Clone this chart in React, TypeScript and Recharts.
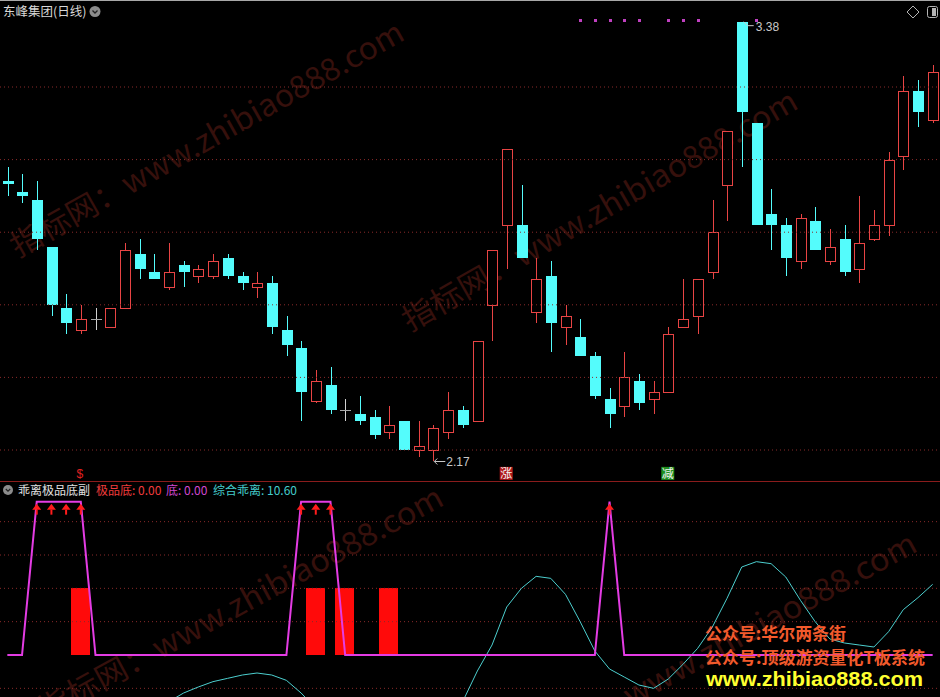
import React from 'react';
import { ComposedChart, Bar, Line, XAxis, YAxis, ReferenceLine, ReferenceDot } from 'recharts';

// 东峰集团 日线 + 乖离极品底副图

const W = 940;
const H = 697;
const TOP_H = 481;
const BOT_TOP = 482;
const BOT_H = 215;

// K线数据 (开/高/低/收)
const opens = [
  2.941, 2.91, 2.89, 2.76, 2.59, 2.53, 2.56, 2.54, 2.59, 2.74,
  2.69, 2.65, 2.71, 2.68, 2.68, 2.73, 2.68, 2.65, 2.66, 2.53,
  2.48, 2.335, 2.38, 2.31, 2.30, 2.29, 2.25, 2.28, 2.20, 2.20,
  2.25, 2.31, 2.28, 2.60, 2.82, 2.82, 2.58, 2.68, 2.54, 2.51,
  2.46, 2.34, 2.32, 2.39, 2.34, 2.36, 2.54, 2.57, 2.69, 2.93,
  3.38, 3.10, 2.85, 2.82, 2.72, 2.83, 2.72, 2.78, 2.70, 2.78,
  2.82, 3.01, 3.19, 3.11,
];
const highs = [
  2.98, 2.96, 2.94, 2.76, 2.63, 2.60, 2.59, 2.59, 2.77, 2.78,
  2.74, 2.77, 2.72, 2.71, 2.74, 2.74, 2.69, 2.69, 2.68, 2.57,
  2.50, 2.42, 2.43, 2.34, 2.35, 2.31, 2.32, 2.28, 2.28, 2.27,
  2.36, 2.32, 2.50, 2.75, 3.03, 2.93, 2.73, 2.72, 2.60, 2.56,
  2.47, 2.37, 2.47, 2.41, 2.39, 2.54, 2.67, 2.67, 2.89, 3.08,
  3.38, 3.10, 2.92, 2.84, 2.85, 2.87, 2.81, 2.82, 2.90, 2.86,
  3.02, 3.23, 3.22, 3.26,
];
const lows = [
  2.90, 2.88, 2.75, 2.57, 2.52, 2.52, 2.53, 2.54, 2.59, 2.67,
  2.67, 2.64, 2.65, 2.66, 2.67, 2.67, 2.64, 2.62, 2.52, 2.46,
  2.28, 2.33, 2.30, 2.28, 2.27, 2.23, 2.23, 2.20, 2.18, 2.17,
  2.23, 2.26, 2.28, 2.50, 2.70, 2.73, 2.55, 2.47, 2.49, 2.46,
  2.34, 2.26, 2.29, 2.31, 2.30, 2.36, 2.54, 2.52, 2.67, 2.83,
  2.98, 2.82, 2.75, 2.68, 2.70, 2.75, 2.71, 2.68, 2.66, 2.775,
  2.79, 2.97, 3.09, 3.10,
];
const closes = [
  2.933, 2.90, 2.78, 2.60, 2.55, 2.56, 2.56, 2.59, 2.75, 2.70,
  2.67, 2.69, 2.69, 2.70, 2.72, 2.68, 2.66, 2.66, 2.54, 2.49,
  2.36, 2.39, 2.31, 2.31, 2.28, 2.24, 2.27, 2.20, 2.21, 2.26,
  2.31, 2.27, 2.50, 2.75, 3.03, 2.73, 2.67, 2.55, 2.57, 2.46,
  2.35, 2.30, 2.40, 2.33, 2.36, 2.52, 2.56, 2.67, 2.80, 3.08,
  3.13, 2.82, 2.82, 2.73, 2.84, 2.75, 2.76, 2.69, 2.77, 2.82,
  3.00, 3.19, 3.13, 3.24,
];

const priceGrid = [3.2, 3.0, 2.8, 2.6, 2.4, 2.2];
const topMarkDays = [40, 41, 42, 43, 44, 46, 47, 48, 52];
const signalDays = [6, 35, 46];
const signalTexts = ['$', '涨', '减'];

// 副图
const diValues = [
  0, 0, 23, 23, 23, 23, 0, 0, 0, 0,
  0, 0, 0, 0, 0, 0, 0, 0, 0, 0,
  23, 23, 23, 0, 0, 0, 0, 0, 0, 0,
  0, 0, 0, 0, 0, 0, 0, 0, 0, 0,
  0, 23, 0, 0, 0, 0, 0, 0, 0, 0,
  0, 0, 0, 0, 0, 0, 0, 0, 0, 0,
  0, 0, 0, 0,
];
const jipinValues = [
  0, 0, 0, 0, 0, 10, 0, 0, 0, 0,
  0, 0, 0, 0, 0, 0, 0, 0, 0, 0,
  0, 10, 0, 10, 0, 0, 10, 0, 0, 0,
  0, 0, 0, 0, 0, 0, 0, 0, 0, 0,
  0, 0, 0, 0, 0, 0, 0, 0, 0, 0,
  0, 0, 0, 0, 0, 0, 0, 0, 0, 0,
  0, 0, 0, 0,
];
const biasValues = [
  -20, -22, -24, -25, -24, -22, -19, -16, -13, -11,
  -9, -7, -5.7, -4.8, -4.0, -3.5, -3.0, -2.7, -3.0, -3.8,
  -5.7, -8, -10, -12, -13, -14, -14, -13, -12, -10.5,
  -9, -7, -2.4, 1.5, 7.2, 10, 11.8, 11.5, 9.1, 5.0,
  0.6, -2.1, -3.3, -4.5, -5.0, -3.6, -1.4, 1.0, 4.2, 8.5,
  13.2, 14.0, 13.7, 11.7, 8.2, 5.0, 2.4, 1.8, 1.5, 1.2,
  3.5, 6.8, 8.6, 10.6,
];
const biasGrid = [20, 15, 10, 5, -5];

const PRICE_DOMAIN = [2.1146, 3.4397];
const BIAS_DOMAIN = [-6.3, 25.95];
const MARK_LEVEL = 3.385;
const SIGNAL_LEVEL = 2.137;

const UP = '#e84444';
const DOWN = '#54fcfc';
const FLAT = '#d0d0d0';
const GRID = '#8a2a2a';

const days = opens.map((_, i) => i + 1);

const priceTable = days.map((day, i) => ({
  day,
  open: opens[i],
  high: highs[i],
  low: lows[i],
  close: closes[i],
  range: [lows[i], highs[i]],
  mark: topMarkDays.includes(day) ? MARK_LEVEL : null,
  sig: signalDays.includes(day) ? SIGNAL_LEVEL : null,
  sigText: signalDays.includes(day) ? signalTexts[signalDays.indexOf(day)] : '',
}));

const biasTable = days.map((day, i) => ({
  day,
  di: diValues[i],
  jipin: jipinValues[i],
  bias: biasValues[i],
}));

const maxHigh = Math.max(...highs);
const minLow = Math.min(...lows);
const maxDay = highs.indexOf(maxHigh) + 1;
const minDay = lows.indexOf(minLow) + 1;

const CandleShape = (props: any) => {
  const { x, y, width, height, payload } = props;
  if (!payload || height == null) return <g />;
  const { open, close, high, low } = payload;
  const top = Math.min(y, y + height);
  const span = Math.abs(height);
  const px = (v: number) => top + ((high - v) / (high - low)) * span;
  const cx = Math.round(x + width / 2);
  const wx = cx + 0.5;
  const yHigh = Math.round(px(high));
  const yLow = Math.round(px(low));
  const yBodyTop = Math.round(px(Math.max(open, close)));
  const yBodyBot = Math.round(px(Math.min(open, close)));

  if (close > open) {
    return (
      <g>
        {yBodyTop > yHigh && <line x1={wx} x2={wx} y1={yHigh} y2={yBodyTop} stroke={UP} />}
        {yLow > yBodyBot && <line x1={wx} x2={wx} y1={yBodyBot} y2={yLow} stroke={UP} />}
        <rect x={cx - 4.5} y={yBodyTop + 0.5} width={10} height={Math.max(yBodyBot - yBodyTop, 1)} fill="#000" stroke={UP} />
      </g>
    );
  }
  if (close < open) {
    return (
      <g>
        <line x1={wx} x2={wx} y1={yHigh} y2={yLow} stroke={DOWN} />
        <rect x={cx - 5} y={yBodyTop} width={11} height={Math.max(yBodyBot - yBodyTop, 2)} fill={DOWN} />
      </g>
    );
  }
  return (
    <g>
      <line x1={wx} x2={wx} y1={yHigh} y2={yLow} stroke={FLAT} />
      <line x1={cx - 5} x2={cx + 6} y1={yBodyTop + 0.5} y2={yBodyTop + 0.5} stroke="#a8a8a8" />
    </g>
  );
};

const MarkDot = (props: any) => {
  const { cx, cy, payload, index } = props;
  if (!payload || payload.mark == null) return <g key={`m${index}`} />;
  return <rect key={`m${index}`} x={Math.round(cx) - 1} y={Math.round(cy) - 1} width={3} height={3} fill="#c040c0" />;
};

const SignalDot = (props: any) => {
  const { cx, cy, payload, index } = props;
  if (!payload || payload.sig == null) return <g key={`s${index}`} />;
  const t = payload.sigText;
  if (t === '$') {
    return (
      <text key={`s${index}`} x={cx - 1} y={cy + 5} textAnchor="middle" fontSize={12} fill="#e02020" fontFamily="Liberation Sans, sans-serif">
        {t}
      </text>
    );
  }
  const bg = t === '涨' ? '#b01818' : '#1f8f1f';
  return (
    <g key={`s${index}`}>
      <rect x={cx - 7} y={cy - 6} width={13} height={13} fill={bg} />
      <text x={cx - 0.5} y={cy + 5} textAnchor="middle" fontSize={12} fill="#f4f4f4" fontFamily='"Noto Sans CJK SC", sans-serif'>
        {t}
      </text>
    </g>
  );
};

const HighLabel = (props: any) => {
  const { cx, cy } = props;
  return (
    <g>
      <polyline points={`${cx + 2},${cy} ${cx + 6},${cy + 4} ${cx + 12},${cy + 4}`} fill="none" stroke="#c8c8c8" />
      <text x={cx + 14} y={cy + 9} fontSize={12} fill="#c8c8c8" fontFamily="Liberation Sans, sans-serif">
        {maxHigh.toFixed(2)}
      </text>
    </g>
  );
};

const LowLabel = (props: any) => {
  const { cx, cy } = props;
  const y0 = Math.round(cy) + 0.5;
  return (
    <g>
      <line x1={cx + 1} x2={cx + 12} y1={y0} y2={y0} stroke="#c8c8c8" />
      <polyline points={`${cx + 4},${y0 - 3} ${cx + 1},${y0} ${cx + 4},${y0 + 3}`} fill="none" stroke="#c8c8c8" />
      <text x={cx + 13} y={cy + 5} fontSize={12} fill="#c8c8c8" fontFamily="Liberation Sans, sans-serif">
        {minLow.toFixed(2)}
      </text>
    </g>
  );
};

const JipinBar = (props: any) => {
  const { x, y, width, height } = props;
  if (!height || Math.abs(height) < 1) return <g />;
  const cx = Math.round(x + width / 2);
  const top = Math.min(y, y + height);
  return <rect x={cx - 10} y={Math.round(top)} width={19} height={Math.round(Math.abs(height))} fill="#ff0a0a" />;
};

const ArrowDot = (props: any) => {
  const { cx, cy, payload, index } = props;
  if (!payload || !payload.di) return <g key={`a${index}`} />;
  return (
    <g key={`a${index}`}>
      <polygon points={`${cx},${cy + 2} ${cx - 4.5},${cy + 8} ${cx + 4.5},${cy + 8}`} fill="#ff1c1c" />
      <rect x={cx - 1} y={cy + 8} width={2} height={5} fill="#ff1c1c" />
    </g>
  );
};

// 水印 (背景)
const watermarks = [
  { x: 18, y: 258, angle: -29.4, len: 446 },
  { x: 410, y: 332, angle: -29.9, len: 450 },
  { x: 45, y: 722, angle: -28.5, len: 456 },
  { x: 515, y: 770, angle: -28.5, len: 460 },
];

const Watermark = () => (
  <svg width={W} height={H} style={{ position: 'absolute', left: 0, top: 0 }}>
    {watermarks.map((w, i) => (
      <text
        key={i}
        x={w.x}
        y={w.y}
        transform={`rotate(${w.angle} ${w.x} ${w.y})`}
        fontSize={31}
        fill="#36100c"
        textLength={w.len}
        lengthAdjust="spacingAndGlyphs"
        fontFamily='"Noto Sans CJK SC", sans-serif'
      >
        指标网：www.zhibiao888.com
      </text>
    ))}
  </svg>
);

const Overlay = () => (
  <svg width={W} height={H} style={{ position: 'absolute', left: 0, top: 0, pointerEvents: 'none' }}>
    <line x1={0} x2={W} y1={0.5} y2={0.5} stroke="#a8a8a8" />
    <text x={3} y={16} fontSize={12.5} fill="#d8d8d8" fontFamily='"Noto Sans CJK SC", sans-serif'>东峰集团(日线)</text>
    <circle cx={95} cy={11.5} r={5.5} fill="#8c8c8c" />
    <polyline points="92.5,10.5 95,13 97.5,10.5" fill="none" stroke="#222" strokeWidth={1.3} />
    <polygon points="913,6 919,12 913,18 907,12" fill="none" stroke="#b4b4b4" />
    <rect x={927.5} y={6.5} width={10} height={11} rx={2} fill="none" stroke="#b4b4b4" />
    <rect x={932} y={8} width={4} height={8} fill="#b4b4b4" />

    <line x1={0} x2={W} y1={481.5} y2={481.5} stroke="#8a1c1c" />
    <circle cx={8} cy={490} r={5} fill="#8c8c8c" />
    <polyline points="5.8,489 8,491.2 10.2,489" fill="none" stroke="#222" strokeWidth={1.2} />
    <g fontSize={12} fontFamily='"Noto Sans CJK SC", sans-serif'>
      <text x={18} y={495} fill="#e0e0e0">乖离极品底副</text>
      <text x={96} y={495} fill="#f03c3c">极品底: {jipinValues[jipinValues.length - 1].toFixed(2)}</text>
      <text x={166} y={495} fill="#d048d0">底: {diValues[diValues.length - 1].toFixed(2)}</text>
      <text x={213} y={495} fill="#44cccc">综合乖离: {biasValues[biasValues.length - 1].toFixed(2)}</text>
    </g>

    <g fontWeight="bold" fontFamily='"Noto Sans CJK SC", sans-serif' fontSize={17}>
      <text x={705} y={640} fill="#f25a2c" textLength={141} lengthAdjust="spacingAndGlyphs">公众号:华尔两条街</text>
      <text x={705} y={664} fill="#f25a2c" textLength={220} lengthAdjust="spacingAndGlyphs">公众号:顶级游资量化T板系统</text>
    </g>
    <text x={706} y={686} fill="#ffff30" fontWeight="bold" fontSize={21} fontFamily="Liberation Sans, Arial, sans-serif" textLength={217} lengthAdjust="spacingAndGlyphs">
      www.zhibiao888.com
    </text>
  </svg>
);

export default function App() {
  return (
    <div
      style={{
        position: 'absolute',
        left: 0,
        top: 0,
        width: W,
        height: H,
        background: '#000',
        overflow: 'hidden',
        fontFamily: '"Noto Sans CJK SC", sans-serif',
      }}
    >
      <Watermark />
      <div style={{ position: 'absolute', left: 0, top: 0 }}>
        <ComposedChart width={W} height={TOP_H} data={priceTable} margin={{ top: 0, right: 0, bottom: 0, left: 0 }} barCategoryGap={0}>
          <XAxis dataKey="day" hide />
          <YAxis hide type="number" domain={PRICE_DOMAIN} allowDataOverflow />
          {priceGrid.map((v) => (
            <ReferenceLine key={v} y={v} stroke={GRID} strokeDasharray="1 3" />
          ))}
          <Bar dataKey="range" shape={CandleShape} isAnimationActive={false} />
          <Line dataKey="mark" stroke="none" dot={MarkDot} activeDot={false} isAnimationActive={false} />
          <Line dataKey="sig" stroke="none" dot={SignalDot} activeDot={false} isAnimationActive={false} />
          <ReferenceDot x={maxDay} y={maxHigh} r={0} shape={HighLabel} />
          <ReferenceDot x={minDay} y={minLow} r={0} shape={LowLabel} />
        </ComposedChart>
      </div>
      <div style={{ position: 'absolute', left: 0, top: BOT_TOP }}>
        <ComposedChart width={W} height={BOT_H} data={biasTable} margin={{ top: 0, right: 0, bottom: 0, left: 0 }} barCategoryGap={0}>
          <XAxis dataKey="day" hide />
          <YAxis hide type="number" domain={BIAS_DOMAIN} allowDataOverflow />
          {biasGrid.map((v) => (
            <ReferenceLine key={v} y={v} stroke={GRID} strokeDasharray="1 3" />
          ))}
          <Bar dataKey="jipin" shape={JipinBar} isAnimationActive={false} />
          <Line dataKey="bias" type="linear" stroke="#4ccfcf" strokeWidth={1} dot={false} activeDot={false} isAnimationActive={false} />
          <Line dataKey="di" type="linear" stroke="#e43ce4" strokeWidth={2} dot={ArrowDot} activeDot={false} isAnimationActive={false} />
        </ComposedChart>
      </div>
      <Overlay />
    </div>
  );
}
